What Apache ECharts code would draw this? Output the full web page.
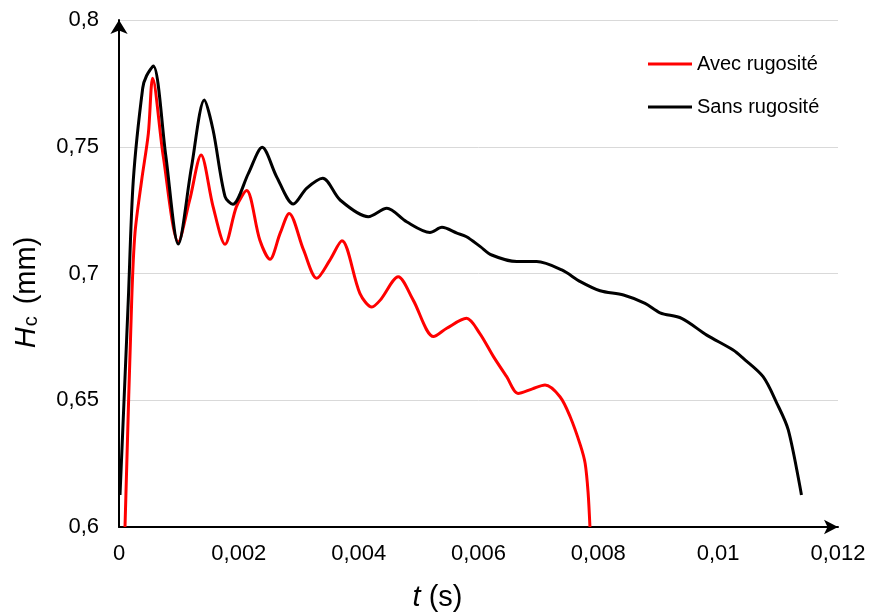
<!DOCTYPE html>
<html>
<head>
<meta charset="utf-8">
<script src="https://cdn.jsdelivr.net/npm/echarts@6/dist/echarts.min.js"></script>
<style>html,body{margin:0;padding:0;background:#fff}#c{width:869px;height:615px}</style>
</head>
<body>
<div id="c"></div>
<script>
const seriesNames = ['Avec rugosité', 'Sans rugosité'];
const avecT = [0.0001,0.000212,0.000267,0.000379,0.00049,0.000562,0.00074,0.00099,0.00118,0.00137,0.00157,0.00177,0.00196,0.00213,0.00235,0.00252,0.00269,0.00284,0.00308,0.0033,0.00352,0.00372,0.00402,0.00422,0.00436,0.00466,0.00491,0.00525,0.00547,0.0058,0.00602,0.00625,0.00647,0.00666,0.0069,0.00711,0.00736,0.00753,0.0077,0.00778,0.00783,0.00786];
const avecH = [0.6,0.6895,0.716,0.7369,0.7553,0.777,0.746,0.7125,0.729,0.7467,0.7264,0.7115,0.7264,0.7327,0.7132,0.7056,0.7159,0.7237,0.7093,0.6981,0.7053,0.7129,0.6922,0.6868,0.6895,0.6987,0.6895,0.6751,0.6784,0.6823,0.6764,0.6672,0.6593,0.6527,0.6545,0.656,0.6514,0.6435,0.6323,0.6251,0.6133,0.6];
const sansT = [0.000017,0.000155,0.000239,0.000396,0.00046,0.000573,0.00078,0.00099,0.00121,0.001424,0.00157,0.00177,0.0019,0.00216,0.00239,0.00263,0.00291,0.00313,0.0034,0.00369,0.00416,0.00447,0.0048,0.00519,0.00539,0.00564,0.0058,0.00603,0.00622,0.00664,0.00697,0.00739,0.0077,0.00803,0.00842,0.00878,0.00903,0.00939,0.00981,0.01025,0.01042,0.01075,0.01098,0.01117,0.01139];
const sansH = [0.6126,0.6895,0.7369,0.7732,0.778,0.7819,0.7467,0.7116,0.742,0.7684,0.7566,0.7303,0.7273,0.7395,0.7498,0.7382,0.7274,0.7336,0.7376,0.729,0.7224,0.7257,0.7204,0.7162,0.7182,0.7159,0.7145,0.7106,0.7073,0.7047,0.7047,0.7014,0.6968,0.6932,0.6915,0.6882,0.6845,0.6823,0.6757,0.6698,0.6665,0.6593,0.6488,0.6383,0.6126];
const xTicks = {min: 0, max: 0.012, interval: 0.002};
const yTicks = {min: 0.6, max: 0.8, interval: 0.05};

const zip = (a, b) => a.map((v, i) => [v, b[i]]);
const fmt = v => String(+v.toFixed(4)).replace('.', ',');
const font = 'Liberation Sans, Arial, sans-serif';

const chart = echarts.init(document.getElementById('c'));
chart.setOption({
  backgroundColor: '#fff',
  animation: false,
  grid: {left: 119, right: 31, top: 20, bottom: 88, containLabel: false, outerBoundsMode: 'none'},
  legend: {
    orient: 'vertical', left: 643, top: 47,
    itemWidth: 44, itemHeight: 3, itemGap: 19, icon: 'rect',
    textStyle: {fontFamily: font, fontSize: 20, color: '#000', lineHeight: 24},
    data: seriesNames
  },
  xAxis: {
    type: 'value', min: xTicks.min, max: xTicks.max, interval: xTicks.interval,
    name: '{i|t} (s)', nameLocation: 'middle', nameGap: 56,
    nameTextStyle: {fontFamily: font, fontSize: 29, color: '#000', padding: [0, 82, 0, 0], rich: {i: {fontFamily: font, fontSize: 29, fontStyle: 'italic', color: '#000'}}},
    axisLine: {show: true, onZero: false, symbol: ['none', 'arrow'], symbolSize: [11, 14], lineStyle: {color: '#000', width: 2}},
    axisTick: {show: false},
    splitLine: {show: false},
    axisLabel: {fontFamily: font, fontSize: 22, color: '#000', margin: 16, formatter: fmt}
  },
  yAxis: {
    type: 'value', min: yTicks.min, max: yTicks.max, interval: yTicks.interval,
    name: '{i|H}{s|c} (mm)', nameLocation: 'middle', nameGap: 78, nameRotate: 90,
    nameTextStyle: {fontFamily: font, fontSize: 29, color: '#000', padding: [0, 38, 0, 0], rich: {
      i: {fontFamily: font, fontSize: 29, fontStyle: 'italic', color: '#000', verticalAlign: 'bottom'},
      s: {fontFamily: font, fontSize: 20, color: '#000', verticalAlign: 'bottom', padding: [0, 4, 0, 1], lineHeight: 16}
    }},
    axisLine: {show: true, onZero: false, symbol: ['none', 'arrow'], symbolSize: [13, 14], lineStyle: {color: '#000', width: 2}},
    axisTick: {show: false},
    splitLine: {show: true, lineStyle: {color: '#d9d9d9', width: 1}},
    axisLabel: {fontFamily: font, fontSize: 22, color: '#000', margin: 20, formatter: fmt}
  },
  series: [
    {name: seriesNames[0], type: 'line', data: zip(avecT, avecH), smooth: 0.3, showSymbol: false, symbol: 'none', lineStyle: {color: '#ff0000', width: 3}, itemStyle: {color: '#ff0000'}, z: 2},
    {name: seriesNames[1], type: 'line', data: zip(sansT, sansH), smooth: 0.3, showSymbol: false, symbol: 'none', lineStyle: {color: '#000000', width: 3}, itemStyle: {color: '#000000'}, z: 3}
  ]
});
</script>
</body>
</html>
